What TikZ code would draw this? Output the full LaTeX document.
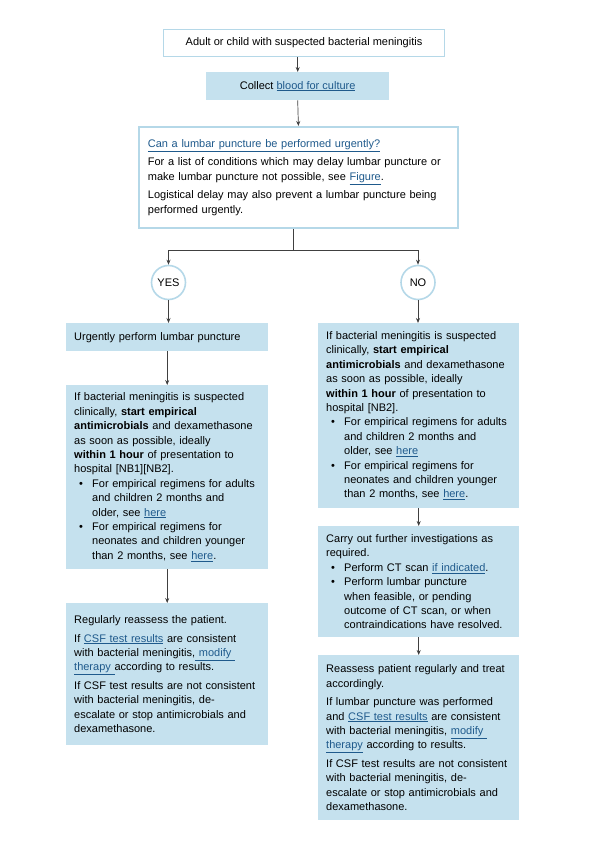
\documentclass[tikz,border=0pt]{standalone}
\usepackage{fontspec}
\setmainfont{Liberation Sans}
\usetikzlibrary{arrows.meta}

\definecolor{boxfill}{HTML}{C5E1EE}
\definecolor{boxline}{HTML}{B5D8E8}
\definecolor{linkblue}{HTML}{1F5A8C}
\definecolor{arrowgray}{HTML}{404040}

\hyphenpenalty=10000
\exhyphenpenalty=10000

\newcommand{\lnk}[1]{\textcolor{linkblue}{\underline{#1}}}
\newcommand{\bul}{\makebox[18pt][l]{\hspace{5pt}\textbullet}}
\newcommand{\ind}{\hspace*{18pt}}

\tikzset{
	txt/.style={font=\fontsize{11}{14.4}\selectfont},
	whitebox/.style={txt, draw=boxline, fill=white, anchor=north west, inner sep=0pt},
	bluebox/.style={txt, fill=boxfill, anchor=north west, inner ysep=0pt, inner xsep=8pt, align=left},
	answer/.style={txt, circle, draw=boxline, line width=1.6pt, fill=white, minimum size=34pt, inner sep=0pt},
	arr/.style={-{Stealth[length=5pt,width=4pt]}, draw=arrowgray, line width=0.7pt},
	conn/.style={draw=arrowgray, line width=0.7pt}
}

\begin{document}
\begin{tikzpicture}[x=1pt, y=-1pt]
	\useasboundingbox (0,0) rectangle (595,842);

	% Kopf
	\node[whitebox, line width=1pt, minimum width=281, minimum height=27, align=center] (patient) at (163,29)
		{Adult or child with suspected bacterial meningitis};
	\node[bluebox, minimum width=183, minimum height=28, align=center] (culture) at (206,72)
		{Collect \lnk{blood for culture}};
	\node[whitebox, line width=1.8pt, text width=301, inner xsep=9pt, minimum height=101, align=left] (question) at (138,126)
		{\lnk{Can a lumbar puncture be performed urgently?}\\[4pt]
		For a list of conditions which may delay lumbar puncture or\\
		make lumbar puncture not possible, see \lnk{Figure}.\\[4pt]
		Logistical delay may also prevent a lumbar puncture being\\
		performed urgently.};

	% Antworten
	\node[answer] (yes) at (168.5,282.5) {YES};
	\node[answer] (no) at (418,282.5) {NO};

	% linker Zweig
	\node[bluebox, text width=186, minimum height=28] (urgent) at (66,323)
		{Urgently perform lumbar puncture};
	\node[bluebox, text width=186, minimum height=184] (leftstart) at (66,385)
		{If bacterial meningitis is suspected\\
		clinically, \textbf{start empirical}\\
		\textbf{antimicrobials} and dexamethasone\\
		as soon as possible, ideally\\
		\textbf{within 1 hour} of presentation to\\
		hospital [NB1][NB2].\\
		\bul For empirical regimens for adults\\
		\ind and children 2 months and\\
		\ind older, see \lnk{here}\\
		\bul For empirical regimens for\\
		\ind neonates and children younger\\
		\ind than 2 months, see \lnk{here}.};
	\node[bluebox, text width=186, minimum height=142] (leftreassess) at (66,603)
		{Regularly reassess the patient.\\[4pt]
		If \lnk{CSF test results} are consistent\\
		with bacterial meningitis,\lnk{\ modify\ }\\
		\lnk{therapy\ }according to results.\\[4pt]
		If CSF test results are not consistent\\
		with bacterial meningitis, de-\\
		escalate or stop antimicrobials and\\
		dexamethasone.};

	% rechter Zweig
	\node[bluebox, text width=185, minimum height=185] (rightstart) at (318,323)
		{If bacterial meningitis is suspected\\
		clinically, \textbf{start empirical}\\
		\textbf{antimicrobials} and dexamethasone\\
		as soon as possible, ideally\\
		\textbf{within 1 hour} of presentation to\\
		hospital [NB2].\\
		\bul For empirical regimens for adults\\
		\ind and children 2 months and\\
		\ind older, see \lnk{here}\\
		\bul For empirical regimens for\\
		\ind neonates and children younger\\
		\ind than 2 months, see \lnk{here}.};
	\node[bluebox, text width=185, minimum height=111] (rightinvest) at (318,526)
		{Carry out further investigations as\\
		required.\\
		\bul Perform CT scan \lnk{if indicated}.\\
		\bul Perform lumbar puncture\\
		\ind when feasible, or pending\\
		\ind outcome of CT scan, or when\\
		\ind contraindications have resolved.};
	\node[bluebox, text width=185, minimum height=165] (rightreassess) at (318,655)
		{Reassess patient regularly and treat\\
		accordingly.\\[4pt]
		If lumbar puncture was performed\\
		and \lnk{CSF test results} are consistent\\
		with bacterial meningitis, \lnk{modify\ }\\
		\lnk{therapy} according to results.\\[4pt]
		If CSF test results are not consistent\\
		with bacterial meningitis, de-\\
		escalate or stop antimicrobials and\\
		dexamethasone.};

	% Verbindungen
	\coordinate (split) at (293,250);
	\draw[arr] (culture.north |- patient.south) -- (culture.north);
	\draw[arr] (culture.south) -- (question.north);
	\draw[conn] (question.south -| split) -- (split);
	\draw[arr] (split) -| (yes.north);
	\draw[arr] (split) -| (no.north);
	\draw[arr] (yes.south) -- (yes.south |- urgent.north);
	\draw[arr] (urgent.south) -- (leftstart.north);
	\draw[arr] (leftstart.south) -- (leftreassess.north);
	\draw[arr] (no.south) -- (no.south |- rightstart.north);
	\draw[arr] (rightstart.south) -- (rightinvest.north);
	\draw[arr] (rightinvest.south) -- (rightreassess.north);
\end{tikzpicture}
\end{document}
